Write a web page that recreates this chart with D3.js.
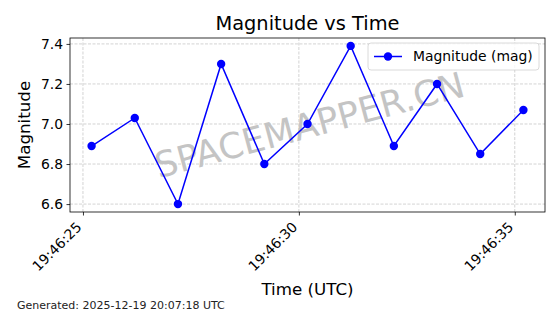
<!DOCTYPE html>
<html lang="en">
<head>
    <meta charset="UTF-8">
    <title>Magnitude vs Time</title>
    <script src="https://d3js.org/d3.v7.min.js"></script>
    <style>
        html, body { margin: 0; padding: 0; background: white; }
        svg { display: block; font-family: "DejaVu Sans", sans-serif; }
    </style>
</head>
<body>
<div class="content"></div>
<script>
    const times = ["19:46:25.2", "19:46:26.2", "19:46:27.2", "19:46:28.2", "19:46:29.2", "19:46:30.2",
                   "19:46:31.2", "19:46:32.2", "19:46:33.2", "19:46:34.2", "19:46:35.2"];
    const magnitudes = [6.89, 7.03, 6.60, 7.30, 6.80, 7.00, 7.39, 6.89, 7.20, 6.85, 7.07];
    const xTicks = ["19:46:25", "19:46:30", "19:46:35"];
    const yTicks = [6.6, 6.8, 7.0, 7.2, 7.4];

    const day = "2025-12-19T";
    const parse = s => new Date(day + s + "Z");
    const data = times.map((t, i) => ({ t: parse(t), v: magnitudes[i] }));

    const w = 560, h = 314;
    const pL = 70, pR = 545, pT = 38, pB = 212;

    // matplotlib style 5% margins
    const tExt = d3.extent(data, d => d.t);
    const tPad = (tExt[1] - tExt[0]) * 0.05;
    const vExt = d3.extent(data, d => d.v);
    const vPad = (vExt[1] - vExt[0]) * 0.05;

    const x = d3.scaleUtc()
        .domain([new Date(+tExt[0] - tPad), new Date(+tExt[1] + tPad)])
        .range([pL, pR]);
    const y = d3.scaleLinear()
        .domain([vExt[0] - vPad, vExt[1] + vPad])
        .range([pB, pT]);

    const svg = d3.select(".content")
        .append("svg")
        .attr("width", w)
        .attr("height", h);

    // grid
    const grid = svg.append("g").attr("stroke", "#b0b0b0").attr("stroke-opacity", 0.7)
        .attr("stroke-width", 0.8).attr("stroke-dasharray", "3,1.5");
    grid.selectAll("line.gx")
        .data(xTicks)
        .enter()
        .append("line")
        .attr("x1", d => x(parse(d))).attr("x2", d => x(parse(d)))
        .attr("y1", pT).attr("y2", pB);
    grid.selectAll("line.gy")
        .data(yTicks)
        .enter()
        .append("line")
        .attr("x1", pL).attr("x2", pR)
        .attr("y1", d => y(d)).attr("y2", d => y(d));

    // watermark
    svg.append("text")
        .attr("transform", `translate(${(pL + pR) / 2 + 2},${(pT + pB) / 2}) rotate(-15)`)
        .attr("text-anchor", "middle")
        .attr("dy", "0.35em")
        .attr("font-size", "35.5px")
        .attr("fill", "#c4c4c4")
        .text("SPACEMAPPER.CN");

    // line + markers
    const line = d3.line().x(d => x(d.t)).y(d => y(d.v));
    svg.append("path")
        .datum(data)
        .attr("d", line)
        .attr("fill", "none")
        .attr("stroke", "#0000ff")
        .attr("stroke-width", 1.5);
    svg.selectAll("circle.pt")
        .data(data)
        .enter()
        .append("circle")
        .attr("cx", d => x(d.t))
        .attr("cy", d => y(d.v))
        .attr("r", 4.2)
        .attr("fill", "#0000ff");

    // axes
    const xAxis = d3.axisBottom(x)
        .tickValues(xTicks.map(parse))
        .tickFormat(d3.utcFormat("%H:%M:%S"))
        .tickSize(3.5)
        .tickPadding(3.5);
    const gx = svg.append("g")
        .attr("transform", `translate(0,${pB})`)
        .call(xAxis);
    gx.select(".domain").remove();
    gx.selectAll("text")
        .attr("font-size", "13.9px")
        .attr("font-family", "DejaVu Sans")
        .attr("fill", "black")
        .attr("text-anchor", "end")
        .attr("x", 0).attr("y", 0).attr("dy", 0)
        .attr("transform", "translate(-1,16) rotate(-45)");

    const yAxis = d3.axisLeft(y)
        .tickValues(yTicks)
        .tickFormat(d3.format(".1f"))
        .tickSize(3.5)
        .tickPadding(3.5);
    const gy = svg.append("g")
        .attr("transform", `translate(${pL},0)`)
        .call(yAxis);
    gy.select(".domain").remove();
    gy.selectAll("text")
        .attr("font-size", "13.9px")
        .attr("font-family", "DejaVu Sans")
        .attr("fill", "black");
    svg.selectAll(".tick line").attr("stroke", "black").attr("stroke-width", 0.8);

    // frame
    svg.append("rect")
        .attr("x", pL).attr("y", pT)
        .attr("width", pR - pL).attr("height", pB - pT)
        .attr("fill", "none").attr("stroke", "black").attr("stroke-width", 0.8);

    // legend
    const lg = svg.append("g").attr("transform", "translate(368,43)");
    lg.append("rect")
        .attr("width", 171).attr("height", 27).attr("rx", 3)
        .attr("fill", "white").attr("fill-opacity", 0.8)
        .attr("stroke", "#d0d0d0").attr("stroke-width", 0.8);
    lg.append("line")
        .attr("x1", 6).attr("x2", 34).attr("y1", 13.5).attr("y2", 13.5)
        .attr("stroke", "#0000ff").attr("stroke-width", 1.5);
    lg.append("circle").attr("cx", 20).attr("cy", 13.5).attr("r", 4.2).attr("fill", "#0000ff");
    lg.append("text")
        .attr("x", 45).attr("y", 13.5).attr("dy", "0.35em")
        .attr("font-size", "13.9px")
        .text("Magnitude (mag)");

    // titles
    svg.append("text")
        .attr("x", (pL + pR) / 2).attr("y", 30)
        .attr("text-anchor", "middle")
        .attr("font-size", "19.4px")
        .text("Magnitude vs Time");
    svg.append("text")
        .attr("x", (pL + pR) / 2).attr("y", 295)
        .attr("text-anchor", "middle")
        .attr("font-size", "16.7px")
        .text("Time (UTC)");
    svg.append("text")
        .attr("transform", `translate(30,${(pT + pB) / 2}) rotate(-90)`)
        .attr("text-anchor", "middle")
        .attr("font-size", "16.7px")
        .text("Magnitude");
    svg.append("text")
        .attr("x", 17).attr("y", 309)
        .attr("font-size", "11px")
        .attr("fill", "#222")
        .text("Generated: 2025-12-19 20:07:18 UTC");
</script>
</body>
</html>
